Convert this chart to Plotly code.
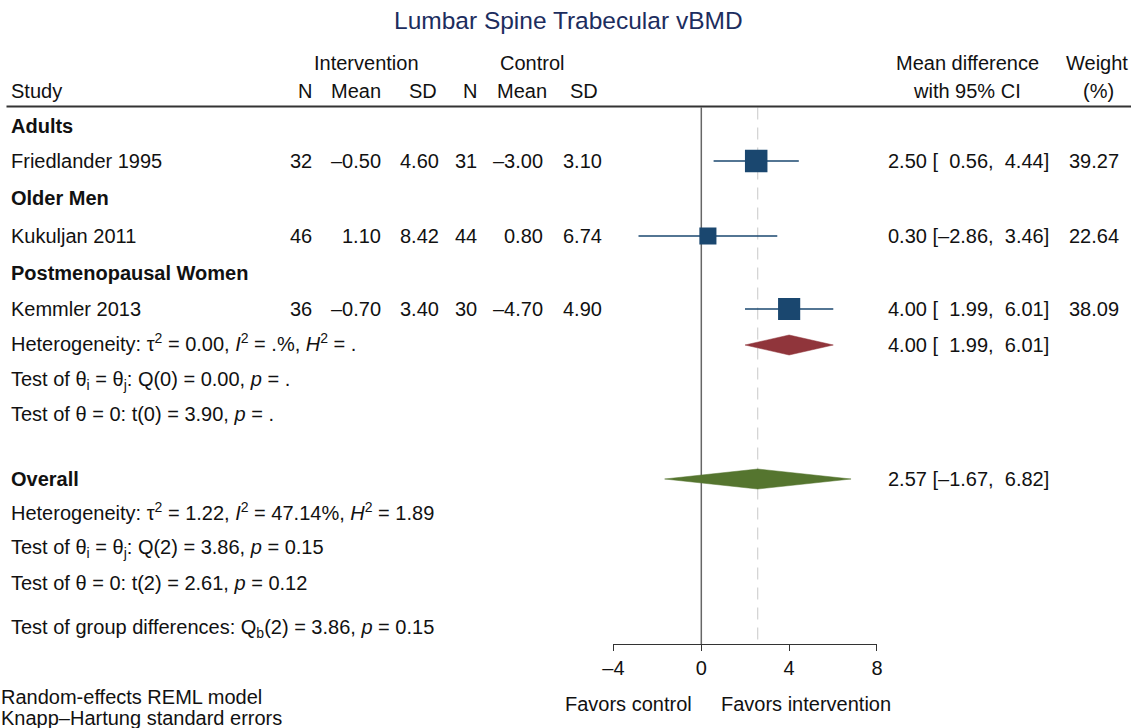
import plotly.graph_objects as go

# ---------------- data ----------------
groups = ["Adults", "Older Men", "Postmenopausal Women"]
studies = ["Friedlander 1995", "Kukuljan 2011", "Kemmler 2013"]
n_int = [32, 46, 36]
mean_int = [-0.50, 1.10, -0.70]
sd_int = [4.60, 8.42, 3.40]
n_ctl = [31, 44, 30]
mean_ctl = [-3.00, 0.80, -4.70]
sd_ctl = [3.10, 6.74, 4.90]
md = [2.50, 0.30, 4.00]
ci_lo = [0.56, -2.86, 1.99]
ci_hi = [4.44, 3.46, 6.01]
weight = [39.27, 22.64, 38.09]

sub_est, sub_lo, sub_hi = 4.00, 1.99, 6.01
ov_est, ov_lo, ov_hi = 2.57, -1.67, 6.82

sub_stats = [
    "Heterogeneity: τ<sup>2</sup> = 0.00, <i>I</i><sup>2</sup> = .%, <i>H</i><sup>2</sup> = .",
    "Test of θ<sub>i</sub> = θ<sub>j</sub>: Q(0) = 0.00, <i>p</i> = .",
    "Test of θ = 0: t(0) = 3.90, <i>p</i> = .",
]
ov_stats = [
    "Heterogeneity: τ<sup>2</sup> = 1.22, <i>I</i><sup>2</sup> = 47.14%, <i>H</i><sup>2</sup> = 1.89",
    "Test of θ<sub>i</sub> = θ<sub>j</sub>: Q(2) = 3.86, <i>p</i> = 0.15",
    "Test of θ = 0: t(2) = 2.61, <i>p</i> = 0.12",
]
group_test = "Test of group differences: Q<sub>b</sub>(2) = 3.86, <i>p</i> = 0.15"
tick_vals = [-4, 0, 4, 8]
notes = ["Random-effects REML model", "Knapp–Hartung standard errors"]

# ---------------- layout helpers ----------------
W, H = 1131, 728
FONT = "Liberation Sans, Arial, Helvetica, sans-serif"
NAVY = "#1a476f"
MAROON = "#90353b"
GREEN = "#55752f"
TXT = "#111111"

group_rows = [126, 198, 273]
study_rows = [161, 236, 309]
sub_stat_rows = [345, 380, 414]
overall_row = 479
ov_stat_rows = [514, 548, 583]
group_test_row = 628
axis_y = 644
rule_y = 106.5

# horizontal correction measured from the first render
OFF, SC = 11.5, 0.985


def sx(px):
    return (px - OFF) / SC / W


def fmt(v, d=2):
    s = f"{v:.{d}f}"
    return s.replace("-", "–")


def pad(v):
    s = fmt(v)
    return s if v < 0 else "\u00a0\u00a0" + s


fig = go.Figure()
ann = []


def text(x, y, s, anchor="left", size=20, color=TXT, bold=False):
    if bold:
        s = "<b>" + s + "</b>"
    ann.append(dict(x=sx(x), xref="paper", y=y, yref="y", text=s, showarrow=False,
                    xanchor=anchor, yanchor="middle",
                    font=dict(family=FONT, size=size, color=color)))


L = 9  # left text edge
EST_R = 1052
WT_R = 1122
# title and headers
text(569, 20, "Lumbar Spine Trabecular vBMD", "center", size=24.5, color="#1c2d5e")
text(367, 63, "Intervention", "center")
text(533, 63, "Control", "center")
text(968, 63, "Mean difference", "center")
text(1098, 63, "Weight", "center")
text(L, 91, "Study")
for xr, lab in zip([315, 384, 440, 480, 550, 601], ["N", "Mean", "SD", "N", "Mean", "SD"]):
    text(xr, 91, lab, "right")
text(968, 91, "with 95% CI", "center")
text(1099, 91, "(%)", "center")

# group and study rows
for i in range(3):
    text(L, group_rows[i], groups[i], bold=True)
    y = study_rows[i]
    text(L, y, studies[i])
    text(315, y, str(n_int[i]), "right")
    text(384, y, fmt(mean_int[i]), "right")
    text(442, y, fmt(sd_int[i]), "right")
    text(480, y, str(n_ctl[i]), "right")
    text(546, y, fmt(mean_ctl[i]), "right")
    text(605, y, fmt(sd_ctl[i]), "right")
    text(EST_R, y, f"{fmt(md[i])} [{pad(ci_lo[i])},{pad(ci_hi[i])}]", "right")
    text(WT_R, y, fmt(weight[i]), "right")

sup_shift = [-3, 0, 0]
for s, y, d in zip(sub_stats, sub_stat_rows, sup_shift):
    text(L, y + d, s)
text(EST_R, sub_stat_rows[0], f"{fmt(sub_est)} [{pad(sub_lo)},{pad(sub_hi)}]", "right")

text(L, overall_row, "Overall", bold=True)
text(EST_R, overall_row, f"{fmt(ov_est)} [{pad(ov_lo)},{pad(ov_hi)}]", "right")
for s, y, d in zip(ov_stats, ov_stat_rows, sup_shift):
    text(L, y + d, s)
text(L, group_test_row, group_test)

text(695, 704, "Favors control", "right")
text(720, 704, "Favors intervention", "left")
text(-1, 697, notes[0])
text(-1, 718, notes[1])

# ---------------- marks ----------------
for i in range(3):
    fig.add_trace(go.Scatter(x=[ci_lo[i], ci_hi[i]], y=[study_rows[i]] * 2, mode="lines",
                             line=dict(color=NAVY, width=1.5), showlegend=False,
                             hoverinfo="skip"))
fig.add_trace(go.Scatter(x=md, y=study_rows, mode="markers",
                         marker=dict(symbol="square", color=NAVY, opacity=1,
                                     size=[3.59 * w ** 0.5 for w in weight],
                                     line=dict(width=0)),
                         showlegend=False))


def diamond(est, lo, hi, y, color, h=10):
    fig.add_trace(go.Scatter(x=[lo, est, hi, est, lo], y=[y, y - h, y, y + h, y],
                             mode="lines", fill="toself", fillcolor=color,
                             line=dict(color=color, width=0.5), showlegend=False,
                             hoverinfo="skip"))


diamond(sub_est, sub_lo, sub_hi, sub_stat_rows[0], MAROON)
diamond(ov_est, ov_lo, ov_hi, overall_row, GREEN)

shapes = [
    dict(type="line", xref="paper", yref="y", x0=sx(7), x1=sx(1140), y0=rule_y, y1=rule_y,
         line=dict(color="#333333", width=2)),
    dict(type="line", xref="x", yref="y", x0=0, x1=0, y0=107.5, y1=axis_y,
         line=dict(color="#666666", width=1.5), layer="below"),
    dict(type="line", xref="x", yref="y", x0=ov_est, x1=ov_est, y0=107.5, y1=axis_y,
         line=dict(color="#c8c8c8", width=1, dash="12px,8px"), layer="below"),
]

fig.update_layout(
    width=W, height=H, margin=dict(l=0, r=0, t=0, b=0),
    paper_bgcolor="white", plot_bgcolor="white",
    annotations=ann, shapes=shapes, showlegend=False,
    xaxis=dict(domain=[sx(614), sx(877.5)], range=[-4, 8], anchor="free",
               position=(H - axis_y) / H, showgrid=False, zeroline=False,
               showline=True, linecolor="#333333", linewidth=1,
               ticks="outside", ticklen=6, tickcolor="#333333", tickwidth=1,
               tickvals=tick_vals, ticktext=[fmt(v, 0) for v in tick_vals],
               tickfont=dict(family=FONT, size=20, color=TXT), fixedrange=True),
    yaxis=dict(domain=[0, 1], range=[H, 0], visible=False, fixedrange=True),
)

fig.write_html("out.html")
